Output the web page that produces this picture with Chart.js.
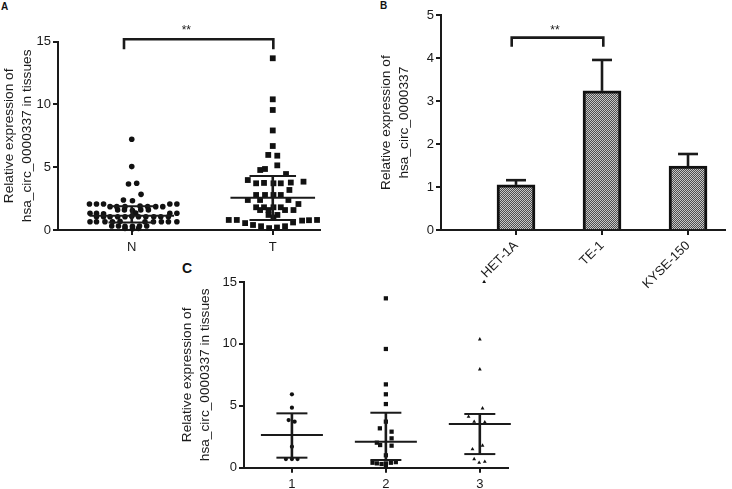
<!DOCTYPE html>
<html><head><meta charset="utf-8">
<script src="https://cdn.jsdelivr.net/npm/chart.js@4/dist/chart.umd.min.js"></script>
<style>
html,body{margin:0;padding:0;background:#fff;width:732px;height:489px;overflow:hidden;position:relative;font-family:"Liberation Sans",Arial,sans-serif;}
canvas{position:absolute;}
.lbl{position:absolute;font-weight:bold;color:#111;line-height:1;}
</style></head><body>
<div class="lbl" style="left:1px;top:1.5px;font-size:10px">A</div>
<div class="lbl" style="left:380px;top:1px;font-size:10px">B</div>
<div class="lbl" style="left:182px;top:261px;font-size:14px">C</div>
<canvas id="cA" width="330" height="265" style="left:0;top:0"></canvas>
<canvas id="cB" width="355" height="300" style="left:377px;top:0"></canvas>
<canvas id="cC" width="340" height="219" style="left:178px;top:270px"></canvas>
<script>
// ---------- DATA ----------
// Panel A
const aCategories = ['N', 'T'];
const aYTicks = [0, 5, 10, 15];
const nValues = [7.23,5.05,3.66,3.72,2.84,2.39,2.33, 2.07,2.07,2.07,2.07,2.07, 1.86,1.86,1.86,1.9,1.86,1.86,1.86, 1.6,1.6,1.55,1.6,1.6, 1.33,1.33,1.3,1.35,1.33,1.33, 1.06,1.06,1.06,1.06,1.06,1.1,1.06,1.06,1.06,1.06,1.06, 0.66,0.66,0.66,0.66,0.7,0.66,0.66,0.66,0.66,0.66, 0.32,0.32,0.3,0.3,0.32,0.32, 0.13,0.1,0.13];
const nJitter = [0,0,-0.023,0.035,0.066,-0.059,0.005, -0.30,-0.25,-0.20,0.27,0.32, -0.154,-0.106,-0.048,0.059,0.113,0.17,0.22, -0.10,-0.052,0.005,0.064,0.118, -0.296,-0.25,-0.20,0.028,0.27,0.32, -0.25,-0.20,-0.154,-0.10,-0.048,0,0.048,0.10,0.156,0.206,0.26, -0.296,-0.25,-0.19,-0.137,-0.083,0.094,0.154,0.21,0.26,0.32, -0.142,-0.094,-0.048,0.005,0.055,0.106, -0.048,0.005,0.048];
const tValues = [13.68,10.41,9.56,7.93,6.69,5.98,5.92,5.15,4.78,4.86,4.46, 3.98,3.72,3.75,3.72,3.72,3.78,3.85, 3.19, 2.79,2.79,2.79,2.79, 2.39,2.39,2.39, 2.07, 1.81,1.81,1.81,1.81, 1.59,1.59,1.59,1.59, 1.2,1.2,1.0, 0.8,0.8,0.55,0.4,0.3,0.15,0.2,0.3,0.6,0.75,0.78,0.8];
const tJitter = [0,0,0,0,0,-0.032,0.032,0.032,-0.089,-0.055,0.094, -0.177,-0.118,-0.062,0.005,0.057,0.128,0.218, 0.118, -0.118,-0.055,0.005,0.057, -0.177,-0.09,0.111, 0.182, -0.118,-0.062,0.005,0.057, -0.09,-0.03,0.087,0.147, -0.03,0.033,0.005, -0.312,-0.255,-0.196,-0.14,-0.083,-0.026,0.03,0.087,0.144,0.208,0.257,0.314];
const aMean = [1.14, 2.57];
const aSdLow = [0.6, 0.8];
const aSdHigh = [1.9, 4.3];
const aSignif = { from: 0.945, to: 2.004, top: 15.2, legEnd: 14.4, label: '**', labelX: 1.387, labelY: 16.2 };

// Panel B
const bCategories = ['HET-1A', 'TE-1', 'KYSE-150'];
const bYTicks = [0, 1, 2, 3, 4, 5];
const bValues = [1.05, 3.24, 1.49];
const bErrHigh = [1.16, 3.96, 1.77];
const bSignif = { from: 0.95, to: 2.015, top: 4.48, legEnd: 4.27, label: '**', labelX: 1.453, labelY: 4.73 };

// Panel C
const cCategories = ['1', '2', '3'];
const cYTicks = [0, 5, 10, 15];
const c1Values = [5.93,4.85,3.85,3.72,1.7,0.7,0.7,0.7];
const c1Jitter = [0,0,-0.035,0.029,0,-0.064,0,0.06];
const c2Values = [13.68,9.59,6.73,5.93,5.14,3.72,3.18,2.91,2.37,2.02,1.83,1.78,1.0,0.4,0.35,0.3,0.35,0.4,0.45,0.08];
const c2Jitter = [0,0,0,0,0,0,-0.064,0.061,0.061,-0.096,-0.061,0.061,0,-0.142,-0.096,-0.046,0,0.053,0.106,0];
const c3Values = [15.0,10.37,7.95,4.8,4.12,3.72,3.67,1.79,1.49,0.7,0.4,0.48];
const c3Jitter = [0.046,0,0,0.029,-0.12,-0.06,0.053,0.029,-0.078,-0.06,-0.007,0.053];
const cMean = [2.64, 2.1, 3.53];
const cSdLow = [0.81, 0.62, 1.1];
const cSdHigh = [4.39, 4.44, 4.34];

const yTitle = ['Relative expression of', 'hsa_circ_0000337 in tissues'];
const yTitleB = ['Relative expression of', 'hsa_circ_0000337'];

// ---------- STYLE / HELPERS ----------
const FONT = '"Liberation Sans", Arial, Helvetica, sans-serif';
const INK = '#1a1a1a';
Chart.defaults.font.family = FONT;
Chart.defaults.color = INK;

function toPoints(values, jitter, cat) {
  return values.map((v, i) => ({ x: cat + jitter[i], y: v }));
}

function yAxis(tickVals, width, title) {
  return {
    type: 'linear', min: tickVals[0], max: tickVals[tickVals.length - 1], bounds: 'data',
    afterBuildTicks: s => { s.ticks = tickVals.map(v => ({ value: v })); },
    ticks: { color: INK, font: { family: FONT, size: 13 }, padding: 2 },
    grid: { drawOnChartArea: false, drawTicks: true, tickLength: 5, color: INK, lineWidth: 2 },
    border: { display: true, color: INK, width: 2 },
    title: { display: true, text: title, color: INK, font: { family: FONT, size: 13.7, lineHeight: '18px' }, padding: { top: 0, bottom: 0 } },
    afterFit: s => { s.width = width; }
  };
}

function xAxis(labels, min, max, height, rotation, pad) {
  return {
    type: 'linear', min: min, max: max, bounds: 'data', offset: false,
    afterBuildTicks: s => { s.ticks = labels.map((l, i) => ({ value: i + 1 })); },
    ticks: { autoSkip: false, minRotation: rotation, maxRotation: rotation, padding: pad,
             color: INK, font: { family: FONT, size: 13 }, callback: (v, i) => labels[i] },
    grid: { offset: false, drawOnChartArea: false, drawTicks: true, tickLength: 5, color: INK, lineWidth: 2 },
    border: { display: true, color: INK, width: 2 },
    afterFit: s => { s.height = height; }
  };
}

function line(ctx, x1, y1, x2, y2) { ctx.beginPath(); ctx.moveTo(x1, y1); ctx.lineTo(x2, y2); ctx.stroke(); }

function summaryPlugin(means, lows, highs, meanHalf, capHalf) {
  return {
    id: 'summaryLines',
    afterDatasetsDraw(chart) {
      const { ctx, scales: { x, y } } = chart;
      ctx.save(); ctx.strokeStyle = INK; ctx.lineCap = 'butt';
      means.forEach((m, i) => {
        const c = i + 1, px = x.getPixelForValue(c);
        const hw = x.getPixelForValue(c + meanHalf) - px;
        const cw = x.getPixelForValue(c + capHalf) - px;
        const yM = y.getPixelForValue(m), yL = y.getPixelForValue(lows[i]), yH = y.getPixelForValue(highs[i]);
        ctx.lineWidth = 2;
        line(ctx, px - hw, yM, px + hw, yM);
        line(ctx, px - cw, yL, px + cw, yL);
        line(ctx, px - cw, yH, px + cw, yH);
        ctx.lineWidth = 2.6;
        line(ctx, px, yH, px, yL);
      });
      ctx.restore();
    }
  };
}

function bracketPlugin(s) {
  return {
    id: 'signifBracket',
    afterDraw(chart) {
      const { ctx, scales: { x, y } } = chart;
      const x1 = x.getPixelForValue(s.from), x2 = x.getPixelForValue(s.to);
      const yt = y.getPixelForValue(s.top), yb = y.getPixelForValue(s.legEnd);
      ctx.save(); ctx.strokeStyle = INK; ctx.lineWidth = 2.6; ctx.lineJoin = 'miter';
      ctx.beginPath(); ctx.moveTo(x1, yb); ctx.lineTo(x1, yt); ctx.lineTo(x2, yt); ctx.lineTo(x2, yb); ctx.stroke();
      ctx.fillStyle = INK; ctx.font = '12px ' + FONT; ctx.textAlign = 'center'; ctx.textBaseline = 'alphabetic';
      ctx.fillText(s.label, x.getPixelForValue(s.labelX), y.getPixelForValue(s.labelY) + 7);
      ctx.restore();
    }
  };
}

function errorBarPlugin(values, highs, capHalf) {
  return {
    id: 'errorBars',
    afterDatasetsDraw(chart) {
      const { ctx, scales: { x, y } } = chart;
      ctx.save(); ctx.strokeStyle = INK; ctx.lineWidth = 2.6;
      values.forEach((v, i) => {
        const c = i + 1, px = x.getPixelForValue(c);
        const cw = x.getPixelForValue(c + capHalf) - px;
        const y0 = y.getPixelForValue(v), y1 = y.getPixelForValue(highs[i]);
        line(ctx, px, y0, px, y1);
        line(ctx, px - cw, y1, px + cw, y1);
      });
      ctx.restore();
    }
  };
}

const common = {
  responsive: false, animation: false, devicePixelRatio: 1, events: [],
  plugins: { legend: { display: false }, tooltip: { enabled: false }, title: { display: false } }
};

// ---------- PANEL A ----------
new Chart(document.getElementById('cA'), {
  type: 'scatter',
  data: { datasets: [
    { data: toPoints(nValues, nJitter, 1), pointStyle: 'circle', pointRadius: 2.8, backgroundColor: '#111', borderWidth: 0, clip: false },
    { data: toPoints(tValues, tJitter, 2), pointStyle: 'rect', pointRadius: 4.1, backgroundColor: '#111', borderWidth: 0, clip: false }
  ]},
  options: Object.assign({}, common, {
    layout: { padding: { top: 41.7, right: 10, left: 0, bottom: 0 } },
    scales: { x: xAxis(aCategories, 0.477, 2.335, 35, 0, 5), y: yAxis(aYTicks, 58, yTitle) }
  }),
  plugins: [summaryPlugin(aMean, aSdLow, aSdHigh, 0.30, 0.165), bracketPlugin(aSignif)]
});

// ---------- PANEL B ----------
const cB = document.getElementById('cB');
function makePattern(ctx) {
  const c = document.createElement('canvas'); c.width = 2; c.height = 2;
  const g = c.getContext('2d');
  g.fillStyle = '#c6c6c6'; g.fillRect(0, 0, 2, 2);
  g.fillStyle = '#4e4e4e'; g.fillRect(0, 0, 1, 1); g.fillRect(1, 1, 1, 1);
  return ctx.createPattern(c, 'repeat');
}
const barFill = makePattern(cB.getContext('2d'));
new Chart(cB, {
  type: 'bar',
  data: { datasets: [
    { data: bValues.map((v, i) => ({ x: i + 1, y: v })), backgroundColor: barFill, borderColor: '#111', borderWidth: 3, borderSkipped: 'start', barThickness: 38 }
  ]},
  options: Object.assign({}, common, {
    layout: { padding: { top: 15.3, right: 7, left: 0, bottom: 0 } },
    scales: { x: xAxis(bCategories, 0.128, 3.43, 70, 45, 3), y: yAxis(bYTicks, 64, yTitleB) }
  }),
  plugins: [errorBarPlugin(bValues, bErrHigh, 0.116), bracketPlugin(bSignif)]
});

// ---------- PANEL C ----------
new Chart(document.getElementById('cC'), {
  type: 'scatter',
  data: { datasets: [
    { data: toPoints(c1Values, c1Jitter, 1), pointStyle: 'circle', pointRadius: 2.1, backgroundColor: '#111', borderWidth: 0, clip: false },
    { data: toPoints(c2Values, c2Jitter, 2), pointStyle: 'rect', pointRadius: 3.0, backgroundColor: '#111', borderWidth: 0, clip: false },
    { data: toPoints(c3Values, c3Jitter, 3), pointStyle: 'triangle', pointRadius: 2.2, backgroundColor: '#111', borderWidth: 0, clip: false }
  ]},
  options: Object.assign({}, common, {
    layout: { padding: { top: 12, right: 10, left: 0, bottom: 0 } },
    scales: { x: xAxis(cCategories, 0.49, 3.3, 21.3, 0, 4), y: yAxis(cYTicks, 66, yTitle) }
  }),
  plugins: [summaryPlugin(cMean, cSdLow, cSdHigh, 0.33, 0.165)]
});
</script>
</body></html>
